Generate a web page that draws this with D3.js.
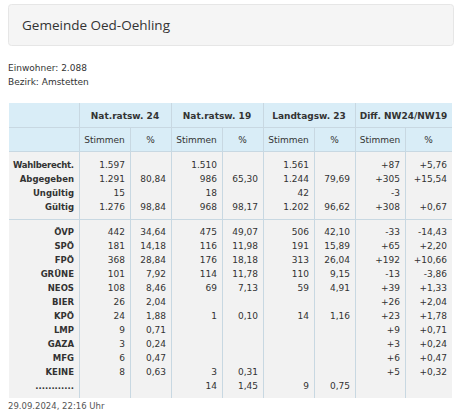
<!DOCTYPE html>
<html>
<script src='https://d3js.org/d3.v7.min.js'></script>
<style> body {margin:0; background:#fff;} text {font-family:'DejaVu Sans', sans-serif;} </style>
<body onload='init()'>
<svg width=465 height=412></svg>
<script>

// table data
var groups = ['Nat.ratsw. 24','Nat.ratsw. 19','Landtagsw. 23','Diff. NW24/NW19'];
var subHeads = ['Stimmen','%'];
var sumLabels = ['Wahlberecht.','Abgegeben','Ungültig','Gültig'];
var sumValues = [
 ['1.597','','1.510','','1.561','','+87','+5,76'],
 ['1.291','80,84','986','65,30','1.244','79,69','+305','+15,54'],
 ['15','','18','','42','','-3',''],
 ['1.276','98,84','968','98,17','1.202','96,62','+308','+0,67']
];
var parties = ['ÖVP','SPÖ','FPÖ','GRÜNE','NEOS','BIER','KPÖ','LMP','GAZA','MFG','KEINE','............'];
var partyValues = [
 ['442','34,64','475','49,07','506','42,10','-33','-14,43'],
 ['181','14,18','116','11,98','191','15,89','+65','+2,20'],
 ['368','28,84','176','18,18','313','26,04','+192','+10,66'],
 ['101','7,92','114','11,78','110','9,15','-13','-3,86'],
 ['108','8,46','69','7,13','59','4,91','+39','+1,33'],
 ['26','2,04','','','','','+26','+2,04'],
 ['24','1,88','1','0,10','14','1,16','+23','+1,78'],
 ['9','0,71','','','','','+9','+0,71'],
 ['3','0,24','','','','','+3','+0,24'],
 ['6','0,47','','','','','+6','+0,47'],
 ['8','0,63','3','0,31','','','+5','+0,32'],
 ['','','14','1,45','9','0,75','','']
];

function init() {
 var svg = d3.select('svg');
 var edges = [9,79,130,171,222,263,314,355,405,452];

 // title box
 svg.append('rect').attr('x',8.5).attr('y',4.5).attr('width',445).attr('height',41)
  .attr('rx',3).attr('fill','#f5f5f5').attr('stroke','#e6e6e6');
 svg.append('text').attr('x',22).attr('y',30).attr('font-size',13.5).attr('fill','#333')
  .style('font-family','"Open Sans", sans-serif')
  .text('Gemeinde Oed-Oehling');
 svg.append('text').attr('x',8).attr('y',71).attr('font-size',9).attr('fill','#333').text('Einwohner: 2.088');
 svg.append('text').attr('x',8).attr('y',85).attr('font-size',9).attr('fill','#333').text('Bezirk: Amstetten');

 // backgrounds
 svg.append('rect').attr('x',9).attr('y',103).attr('width',443).attr('height',48).attr('fill','#d9edf7');
 svg.append('rect').attr('x',9).attr('y',151).attr('width',443).attr('height',247).attr('fill','#f2f2f2');

 // column lines
 svg.selectAll('.vl').data(edges.slice(1,-1)).enter().append('line')
  .attr('x1',function(d){return d+0.5;}).attr('x2',function(d){return d+0.5;})
  .attr('y1',function(d,i){return i%2==1 ? 127 : 103;}).attr('y2',398)
  .attr('stroke','#c8d8e2');
 svg.append('line').attr('x1',9).attr('x2',452).attr('y1',127.5).attr('y2',127.5).attr('stroke','#c8d8e2');
 svg.append('line').attr('x1',9).attr('x2',452).attr('y1',151.5).attr('y2',151.5).attr('stroke','#c8d8e2');
 svg.append('line').attr('x1',9).attr('x2',452).attr('y1',219.5).attr('y2',219.5).attr('stroke','#c8d8e2');

 // headers
 svg.selectAll('.gh').data(groups).enter().append('text')
  .attr('x',function(d,i){return (edges[1+2*i]+edges[3+2*i])/2;}).attr('y',119)
  .attr('text-anchor','middle').attr('font-size',9).attr('font-weight','bold').attr('fill','#333').text(function(d){return d;});
 svg.selectAll('.sh').data(d3.range(8)).enter().append('text')
  .attr('x',function(i){return (edges[1+i]+edges[2+i])/2;}).attr('y',143)
  .attr('text-anchor','middle').attr('font-size',9).attr('fill','#333').text(function(i){return subHeads[i%2];});

 // rows via scales
 var ySum = d3.scalePoint().domain(sumLabels).range([164,206]);
 var yParty = d3.scalePoint().domain(parties).range([231,385]);

 function drawRows(labels, values, y) {
  svg.append('g').selectAll('text').data(labels).enter().append('text')
   .attr('x',74).attr('y',function(d){return y(d)+4;}).attr('text-anchor','end')
   .attr('font-size',8.5).attr('font-weight','bold').attr('fill','#333')
   .attr('textLength',function(d){return d=='Wahlberecht.' ? 61 : null;})
   .text(function(d){return d;});
  labels.forEach(function(l,r){
   svg.append('g').selectAll('text').data(values[r]).enter().append('text')
    .attr('x',function(d,i){return edges[2+i]-5;}).attr('y',y(l)+4).attr('text-anchor','end')
    .attr('font-size',9).attr('fill','#333').text(function(d){return d;});
  });
 }
 drawRows(sumLabels, sumValues, ySum);
 drawRows(parties, partyValues, yParty);

 svg.append('text').attr('x',8).attr('y',409).attr('font-size',8.5).attr('fill','#555').text('29.09.2024, 22:16 Uhr');
}

</script>
</body>
</html>
